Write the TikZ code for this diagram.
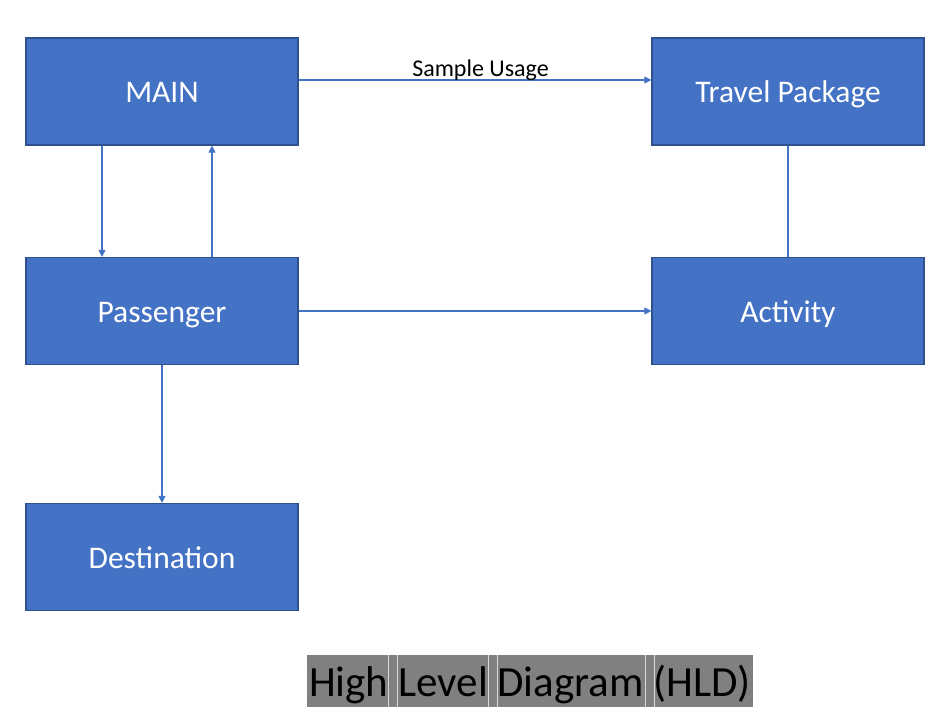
\documentclass[tikz,border=0pt]{standalone}
\usepackage{fontspec}
\setmainfont{Carlito}
\usetikzlibrary{arrows.meta}
\definecolor{boxfill}{HTML}{4472C4}
\definecolor{boxline}{HTML}{2F528F}
\definecolor{titlegray}{HTML}{808080}
\tikzset{
  block/.style={rectangle, draw=boxline, line width=1.2pt, fill=boxfill, text=white,
    minimum width=272pt, minimum height=107pt, inner sep=0pt,
    text height=22pt, text depth=0pt,
    font=\fontsize{31.5}{36}\selectfont},
  conn/.style={draw=boxfill, line width=1.1pt},
  arr/.style={conn, -{Triangle[length=7pt,width=7pt]}},
}
\begin{document}
\begin{tikzpicture}[x=1pt,y=-1pt]
\useasboundingbox (0,0) rectangle (950,709);
\node[block] (main) at (162,91.5) {MAIN};
\node[block] (travel) at (788,91.5) {Travel Package};
\node[block] (pass) at (162,311) {Passenger};
\node[block] (act) at (788,311) {Activity};
\node[block] (dest) at (162,557) {Destination};
\draw[arr] (main.east |- 0,80) -- (travel.west |- 0,80);
\node[anchor=base, text=black, inner sep=0pt, font=\fontsize{24}{28}\selectfont] (lbl) at (480.5,76) {Sample Usage};
\draw[arr] (main.south -| 102,0) -- (pass.north -| 102,0);
\draw[arr] (pass.north -| 212,0) -- (main.south -| 212,0);
\draw[arr] (pass.east) -- (act.west);
\draw[conn] (travel.south) -- (act.north);
\draw[arr] (pass.south) -- (dest.north);
\fill[titlegray] (307,655) rectangle (753,706.5);
\foreach \xx in {388,397,488,497,645,654} \draw[white!70!titlegray, line width=0.6pt] (\xx,655) -- (\xx,706.5);
\node[anchor=base, text=black, font=\fontsize{43}{48}\selectfont, inner sep=0pt] (title) at (530,696.5) {High Level Diagram (HLD)};
\end{tikzpicture}
\end{document}
